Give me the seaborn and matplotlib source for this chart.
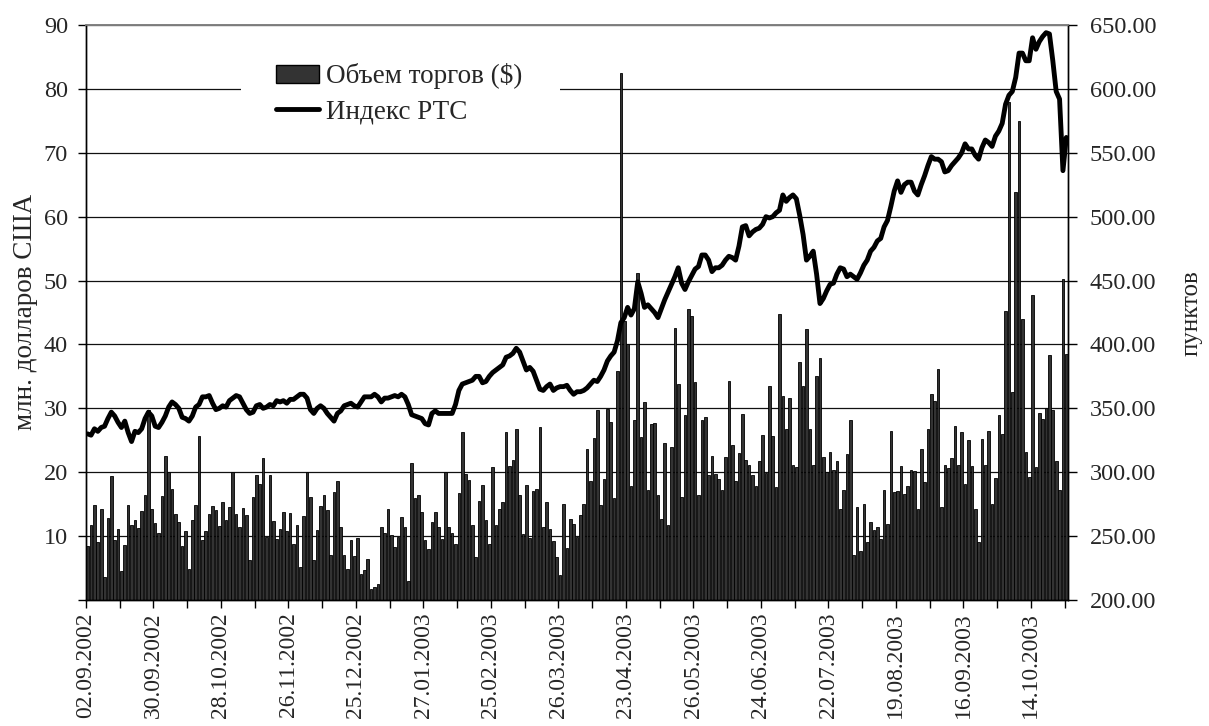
import numpy as np
import pandas as pd
import matplotlib
matplotlib.use("Agg")
import matplotlib.pyplot as plt
import seaborn as sns
from matplotlib.patches import Patch, Rectangle
from matplotlib.lines import Line2D

sns.set_theme(style="white")
plt.rcParams["font.family"] = ["Liberation Serif", "DejaVu Serif"]

# ---- data: daily trading volume (mln USD) ----
vol_p1 = [8.4, 11.7, 14.8, 9.1, 14.2, 3.6, 12.8, 19.4, 9.4, 11.1, 4.5, 8.6, 14.9, 11.7, 12.5, 11.2, 14.0, 16.5, 29.7,
          14.3, 12.1, 10.5, 16.3, 22.5, 20.0, 17.3, 13.5, 12.2, 8.4, 10.8, 4.8, 12.6, 14.8, 25.6, 9.4, 10.8, 13.5]
vol_p2 = [14.7, 14.1, 11.6, 15.4, 12.6, 14.5, 20.0, 13.5, 11.4, 14.4, 13.3, 6.3, 16.1, 19.6, 18.2, 22.2, 9.9, 19.6,
          12.3, 9.6, 11.1, 13.8, 10.8, 13.6, 8.7, 11.8, 5.1, 13.1, 20.0, 16.1, 6.2, 10.9, 14.7, 16.4, 14.1, 7.1, 16.9]
vol_p3 = [18.7, 11.5, 7.1, 4.9, 9.4, 6.9, 9.7, 4.1, 4.7, 6.4, 1.8, 2.1, 2.5, 11.5, 10.5, 14.2, 10.2, 8.3, 9.9, 13.0,
          11.4, 2.9, 21.4, 15.9, 16.4, 13.7, 9.4, 8.0, 12.2, 13.7, 11.4, 9.5, 20.0, 11.4, 10.5, 8.8, 16.8]
vol_p4 = [26.3, 19.7, 18.8, 11.8, 6.8, 15.5, 18.0, 12.6, 8.8, 20.8, 11.7, 14.2, 15.3, 26.3, 21.0, 21.9, 26.7, 16.5,
          10.3, 18.0, 9.7, 17.1, 17.3, 27.1, 11.4, 15.4, 11.1, 9.3, 6.7, 3.9, 15.0, 8.2, 12.7, 11.9, 9.9, 13.3, 15.0]
vol_p5 = [23.6, 18.6, 25.4, 29.7, 14.9, 18.9, 29.9, 27.9, 15.9, 35.8, 82.5, 43.7, 40.0, 17.9, 28.2, 51.2, 25.5, 31.0,
          17.2, 27.6, 27.7, 16.5, 12.7, 24.6, 11.8, 24.0, 42.6, 33.8, 16.2, 29.0, 45.6, 44.5, 34.1, 16.4, 28.2, 28.6, 19.6]
vol_p6 = [22.6, 19.8, 18.9, 17.2, 22.4, 34.3, 24.2, 18.6, 23.0, 29.1, 21.9, 21.2, 19.5, 17.9, 21.8, 25.8, 19.9, 33.5,
          25.7, 17.7, 44.8, 32.0, 26.8, 31.6, 21.2, 20.8, 37.3, 33.5, 42.4, 26.8, 21.1, 35.1, 37.9, 22.4, 20.1, 23.1, 20.3]
vol_p7 = [21.7, 14.3, 17.2, 22.9, 28.2, 7.0, 14.5, 7.6, 15.0, 9.1, 12.2, 10.9, 11.4, 9.6, 17.2, 11.9, 26.5, 16.9,
          17.0, 20.9, 16.6, 17.8, 20.4, 20.2, 14.2, 23.7, 18.4, 26.7, 32.2, 31.1, 36.1, 14.5, 21.1, 20.6, 22.2, 27.3, 21.2]
vol_p8 = [26.3, 18.2, 25.1, 20.9, 14.3, 9.1, 25.2, 21.1, 26.4, 15.0, 19.1, 29.0, 26.0, 45.3, 78.0, 32.6, 63.9, 75.0,
          44.0, 23.1, 19.3, 47.7, 20.8, 29.2, 28.4, 30.1, 38.3, 29.8, 21.7, 17.2, 50.3, 38.5]

# ---- data: RTS index (points) ----
rts_p1 = [330, 329, 334, 332, 335, 336, 342, 347, 344, 339, 335, 340, 331, 324, 332, 331, 334, 342, 347, 344, 336,
          335, 339, 344, 351, 355, 353, 350, 343, 342, 340, 344, 351, 353, 359, 359, 360]
rts_p2 = [354, 349, 350, 352, 351, 356, 358, 360, 359, 354, 349, 346, 347, 352, 353, 350, 351, 353, 352, 356, 355,
          356, 354, 357, 357, 359, 361, 361, 358, 349, 346, 350, 352, 350, 346, 343, 340]
rts_p3 = [346, 348, 352, 353, 354, 352, 351, 355, 359, 359, 359, 361, 359, 355, 358, 358, 359, 360, 359, 361, 359,
          353, 345, 344, 343, 342, 338, 337, 346, 348, 346, 346, 346, 346, 346, 353, 364]
rts_p4 = [369, 370, 371, 372, 375, 375, 370, 371, 375, 378, 380, 382, 384, 390, 391, 393, 397, 394, 387, 380, 382,
          379, 372, 365, 364, 367, 369, 364, 366, 367, 367, 368, 364, 361, 363, 363, 364]
rts_p5 = [366, 369, 372, 371, 375, 380, 387, 391, 394, 403, 417, 421, 429, 423, 428, 449, 440, 429, 431, 428, 425,
          421, 428, 435, 441, 447, 453, 460, 448, 443, 449, 454, 459, 461, 470, 470, 466]
rts_p6 = [457, 460, 460, 462, 466, 469, 468, 466, 477, 492, 493, 485, 488, 490, 491, 494, 500, 499, 500, 503, 505,
          517, 512, 515, 517, 514, 501, 486, 466, 469, 473, 455, 432, 436, 442, 447, 448]
rts_p7 = [455, 460, 459, 453, 455, 453, 451, 456, 462, 466, 473, 476, 481, 483, 492, 497, 508, 520, 528, 519, 525,
          527, 527, 520, 517, 525, 532, 540, 547, 545, 545, 543, 535, 536, 540, 543, 546]
rts_p8 = [550, 557, 553, 553, 548, 545, 554, 560, 558, 555, 563, 567, 573, 588, 595, 598, 609, 628, 628, 622, 622,
          640, 631, 637, 641, 644, 643, 622, 598, 592, 536, 562]

date_labels = ["02.09.2002", "30.09.2002", "28.10.2002", "26.11.2002", "25.12.2002", "27.01.2003", "25.02.2003",
               "26.03.2003", "23.04.2003", "26.05.2003", "24.06.2003", "22.07.2003", "19.08.2003", "16.09.2003",
               "14.10.2003"]

volume = vol_p1 + vol_p2 + vol_p3 + vol_p4 + vol_p5 + vol_p6 + vol_p7 + vol_p8
rts = rts_p1 + rts_p2 + rts_p3 + rts_p4 + rts_p5 + rts_p6 + rts_p7 + rts_p8
n = min(len(volume), len(rts))
df = pd.DataFrame({"i": np.arange(n), "vol": volume[:n], "rts": rts[:n]})

FS = 17.5
W, H = 1209, 726
fig = plt.figure(figsize=(W / 100, H / 100), dpi=100)
ax = fig.add_axes([86 / W, 1 - 600 / H, (1068 - 86) / W, (600 - 25) / H])

sns.barplot(data=df, x="i", y="vol", native_scale=True, color="#333333", saturation=1,
            edgecolor="black", linewidth=0.6, width=0.78, ax=ax, zorder=2)
ax.set_axisbelow(True)
ax.yaxis.grid(True, color="#111111", lw=0.9)
ax.set_ylim(0, 90)
ax.set_yticks(np.arange(0, 91, 10))
ax.set_yticklabels([""] + [str(v) for v in range(10, 91, 10)], fontsize=FS)
ax.set_xlim(-0.5, n - 0.5)
major = [k * 20 - 0.5 for k in range(len(date_labels))]
minor = [k * 20 + 10 - 0.5 for k in range(len(date_labels)) if k * 20 + 10 < n]
ax.set_xticks(major)
ax.set_xticklabels(date_labels, rotation=90, fontsize=17)
ax.set_xticks(minor, minor=True)
ax.tick_params(axis="x", which="both", bottom=True, direction="out", length=6, width=1, color="black", pad=3)
ax.tick_params(axis="y", left=True, direction="out", length=6, width=1, color="black", pad=7)
ax.set_xlabel("")
ax.set_ylabel("")

ax2 = ax.twinx()
sns.lineplot(data=df, x="i", y="rts", color="black", lw=3.5, ax=ax2, zorder=3)
ax2.set_ylim(200, 650)
ax2.set_yticks(np.arange(200, 651, 50))
ax2.set_yticklabels([f"{v:.2f}" for v in range(200, 651, 50)], fontsize=FS)
ax2.tick_params(axis="y", right=True, direction="out", length=6.5, width=1, color="black", pad=9)
ax2.set_ylabel("")
ax2.set_xlim(-0.5, n - 0.5)

for a in (ax, ax2):
    for s in ("left", "right", "bottom"):
        a.spines[s].set_color("black")
        a.spines[s].set_linewidth(1)
    a.spines["top"].set_color("#808080")
    a.spines["top"].set_linewidth(1.2)

# axis titles
fig.text(26 / W, 1 - 312 / H, "млн. долларов США", rotation=90, fontsize=19.5, ha="center", va="center")
fig.text(1192 / W, 1 - 313 / H, "пунктов", rotation=90, fontsize=18, ha="center", va="center")

# legend with white background area
ax2.add_patch(Rectangle((241 / W, 1 - 140 / H), (560 - 241) / W, 95 / H, transform=fig.transFigure,
                        facecolor="white", edgecolor="none", zorder=4))
handles = [Patch(facecolor="#333333", edgecolor="black", lw=1),
           Line2D([], [], color="black", lw=3.5)]
leg = ax2.legend(handles, ["Объем торгов ($)", "Индекс РТС"], loc="center left",
                 bbox_to_anchor=(276 / W, 1 - 94 / H), bbox_transform=fig.transFigure,
                 frameon=False, fontsize=19.5, handlelength=1.6, handleheight=0.65,
                 handletextpad=0.25, borderpad=0, borderaxespad=0, labelspacing=0.38)
leg.set_zorder(5)

fig.savefig("out.png", dpi=100)
